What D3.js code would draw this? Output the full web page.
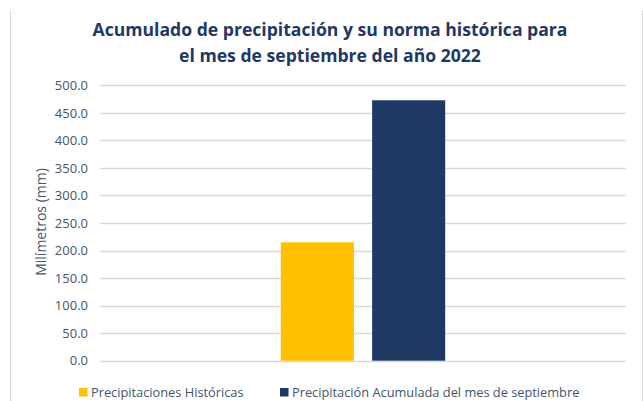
<!DOCTYPE html>
<html>
<head>
<meta charset="utf-8">
<script src="https://cdn.jsdelivr.net/npm/d3@7"></script>
<style>
  body { margin: 0; background: #fff; }
  text { font-family: "Open Sans", sans-serif; }
</style>
</head>
<body>
<div id="chart"></div>
<script>
// data
var categories = ["septiembre 2022"];
var seriesNames = ["Precipitaciones Históricas", "Precipitación Acumulada del mes de septiembre"];
var seriesValues = [215.0, 472.8];
var tickValues = [0, 50, 100, 150, 200, 250, 300, 350, 400, 450, 500];
var colors = ["#ffc000", "#1f3864"];

var width = 643,
    height = 401;
var margin = { top: 85.3, right: 17, bottom: 40.3, left: 100 };

var svg = d3.select("#chart")
    .append("svg")
    .attr("width", width)
    .attr("height", height);

// frame lines at the left and right
svg.append("line")
    .attr("x1", 10.5).attr("x2", 10.5)
    .attr("y1", 10).attr("y2", height)
    .attr("stroke", "#d9d9d9");
svg.append("line")
    .attr("x1", 642.5).attr("x2", 642.5)
    .attr("y1", 10).attr("y2", height)
    .attr("stroke", "#d9d9d9");

var y = d3.scaleLinear()
    .domain([0, 500])
    .range([height - margin.bottom, margin.top]);

var x0 = d3.scaleBand()
    .domain(categories)
    .range([margin.left, width - margin.right])
    .paddingInner(0)
    .paddingOuter(1.1);

var x1 = d3.scaleBand()
    .domain(seriesNames)
    .range([0, x0.bandwidth()])
    .paddingInner(0.2);

// gridlines
svg.append("g")
    .selectAll("line")
    .data(tickValues)
    .enter()
    .append("line")
    .attr("x1", margin.left)
    .attr("x2", width - margin.right)
    .attr("y1", function(d) { return Math.round(y(d)) + 0.5; })
    .attr("y2", function(d) { return Math.round(y(d)) + 0.5; })
    .attr("stroke", "#d9d9d9")
    .attr("stroke-width", 1.3);

// y axis labels
var yAxis = d3.axisLeft(y)
    .tickValues(tickValues)
    .tickSize(0)
    .tickPadding(0)
    .tickFormat(d3.format(".1f"));

svg.append("g")
    .attr("transform", "translate(" + 88 + ",0)")
    .call(yAxis)
    .call(function(g) { g.select(".domain").remove(); })
    .selectAll("text")
    .attr("fill", "#44546a")
    .style("font-size", "13px");

// bars
svg.append("g")
    .selectAll("rect")
    .data(seriesNames.map(function(name, i) {
        return { cat: categories[0], name: name, value: seriesValues[i], color: colors[i] };
    }))
    .enter()
    .append("rect")
    .attr("x", function(d) { return x0(d.cat) + x1(d.name); })
    .attr("y", function(d) { return y(d.value); })
    .attr("width", x1.bandwidth())
    .attr("height", function(d) { return y(0) - y(d.value); })
    .attr("fill", function(d) { return d.color; });

// title
svg.append("text")
    .attr("x", 330)
    .attr("y", 36)
    .attr("text-anchor", "middle")
    .attr("fill", "#1f3864")
    .style("font-size", "17.6px")
    .style("font-weight", "bold")
    .text("Acumulado de precipitación y su norma histórica para");
svg.append("text")
    .attr("x", 330)
    .attr("y", 62)
    .attr("text-anchor", "middle")
    .attr("fill", "#1f3864")
    .style("font-size", "17.6px")
    .style("font-weight", "bold")
    .text("el mes de septiembre del año 2022");

// y axis title
svg.append("text")
    .attr("transform", "translate(46," + 222 + ") rotate(-90)")
    .attr("text-anchor", "middle")
    .attr("fill", "#44546a")
    .style("font-size", "14px")
    .text("Milímetros (mm)");

// legend
var legendX = [79, 280];
var legend = svg.append("g")
    .selectAll("g")
    .data(seriesNames)
    .enter()
    .append("g")
    .attr("transform", function(d, i) { return "translate(" + legendX[i] + ",388)"; });

legend.append("rect")
    .attr("width", 8.5)
    .attr("height", 8.5)
    .attr("fill", function(d, i) { return colors[i]; });

legend.append("text")
    .attr("x", 12)
    .attr("y", 8.5)
    .attr("fill", "#44546a")
    .style("font-size", "12.8px")
    .text(function(d) { return d; });
</script>
</body>
</html>
